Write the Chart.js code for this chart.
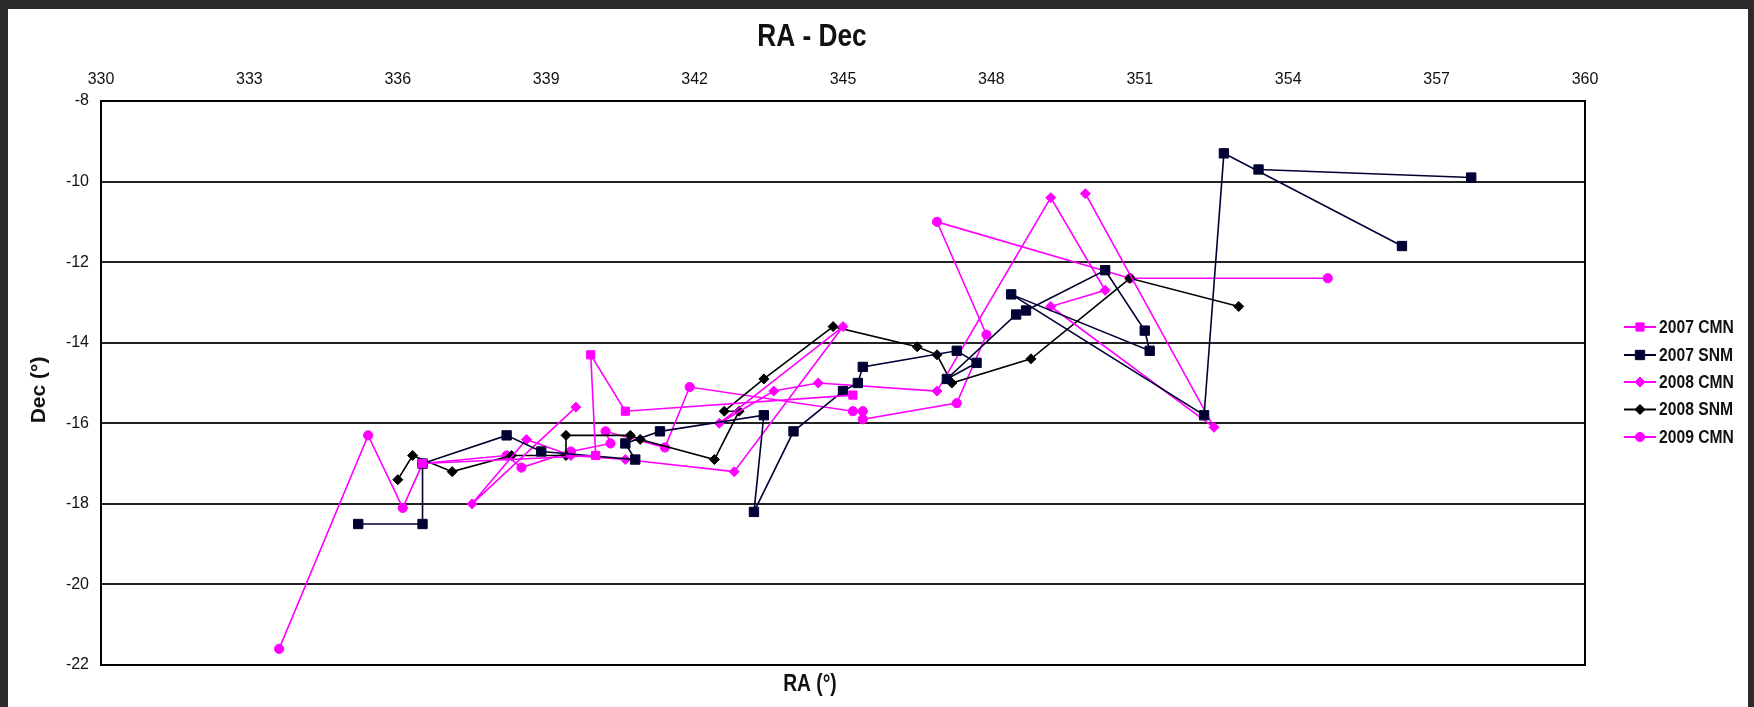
<!DOCTYPE html>
<html>
<head>
<meta charset="utf-8">
<script src="https://cdn.jsdelivr.net/npm/chart.js@4/dist/chart.umd.min.js"></script>
<style>
  html, body { margin: 0; padding: 0; background: #2b2b2b; width: 1754px; height: 707px; overflow: hidden; }
  #frame { position: absolute; left: 8px; top: 9px; width: 1740px; height: 698px; background: #ffffff; }
  canvas { display: block; }
</style>
</head>
<body>
<div id="frame"><canvas id="c" width="1740" height="698"></canvas></div>
<script>
// Axis ticks
const raTicks  = [330, 333, 336, 339, 342, 345, 348, 351, 354, 357, 360];
const decTicks = [-22, -20, -18, -16, -14, -12, -10, -8];

// 2007 CMN
const ra2007CMN  = [336.5, 340.0, 339.9, 340.6, 345.2];
const dec2007CMN = [-17.0, -16.8, -14.3, -15.7, -15.3];

// 2007 SNM (null marks a break in the track)
const ra2007SNM  = [335.2, 336.5, 336.5, 338.2, 338.9, 340.8, 340.6, 341.3, 343.4, 343.2, 344.0, 345.0, 345.3, 345.4,
                    347.3, 347.7, 347.1, 348.5, 348.7, 350.3, 351.1, 351.2, 348.4, 352.3, 352.7, 356.3, null, 353.4, 357.7];
const dec2007SNM = [-18.5, -18.5, -17.0, -16.3, -16.7, -16.9, -16.5, -16.2, -15.8, -18.2, -16.2, -15.2, -15.0, -14.6,
                    -14.2, -14.5, -14.9, -13.3, -13.2, -12.2, -13.7, -14.2, -12.8, -15.8, -9.3, -11.6, null, -9.7, -9.9];

// 2008 CMN
const ra2008CMN  = [339.6, 337.5, 338.6, 339.5, 340.6, 342.8, 345.0, 342.5, 343.6, 344.5, 346.9, 349.2, 350.3, 349.2, 352.5, 349.9];
const dec2008CMN = [-15.6, -18.0, -16.4, -16.8, -16.9, -17.2, -13.6, -16.0, -15.2, -15.0, -15.2, -10.4, -12.7, -13.1, -16.1, -10.3];

// 2008 SNM
const ra2008SNM  = [336.0, 336.3, 337.1, 338.3, 339.4, 339.4, 340.7, 340.9, 342.4, 342.9, 342.6, 343.4, 344.8, 346.5, 346.9, 347.2, 348.8, 350.8, 353.0];
const dec2008SNM = [-17.4, -16.8, -17.2, -16.8, -16.8, -16.3, -16.3, -16.4, -16.9, -15.7, -15.7, -14.9, -13.6, -14.1, -14.3, -15.0, -14.4, -12.4, -13.1];

// 2009 CMN
const ra2009CMN  = [333.6, 335.4, 336.1, 336.5, 338.2, 338.5, 339.5, 340.3, 340.2, 341.4, 341.9, 345.2, 345.4, 345.4, 347.3, 347.9, 346.9, 350.8, 354.8];
const dec2009CMN = [-21.6, -16.3, -18.1, -17.0, -16.8, -17.1, -16.7, -16.5, -16.2, -16.6, -15.1, -15.7, -15.7, -15.9, -15.5, -13.8, -11.0, -12.4, -12.4];

const SANS = "'Liberation Sans', Arial, sans-serif";
const MAGENTA = '#ff00ff';
const NAVY = '#000033';
const BLACK = '#000000';

function pts(xs, ys) {
  return xs.map((x, i) => ({ x: x, y: ys[i] }));
}

function series(label, xs, ys, color, style, radius) {
  return {
    label: label,
    data: pts(xs, ys),
    showLine: true,
    spanGaps: false,
    borderColor: color,
    borderWidth: 1.6,
    backgroundColor: color,
    pointBackgroundColor: color,
    pointBorderColor: color,
    pointBorderWidth: 1,
    pointStyle: style,
    pointRadius: radius,
    pointHoverRadius: radius,
    tension: 0
  };
}

const datasets = [
  series('2007 CMN', ra2007CMN, dec2007CMN, MAGENTA, 'rect', 5.8),
  series('2007 SNM', ra2007SNM, dec2007SNM, NAVY, 'rect', 6.6),
  series('2008 CMN', ra2008CMN, dec2008CMN, MAGENTA, 'rectRot', 5),
  series('2008 SNM', ra2008SNM, dec2008SNM, BLACK, 'rectRot', 5),
  series('2009 CMN', ra2009CMN, dec2009CMN, MAGENTA, 'circle', 4.6)
];

// Text drawn slightly condensed, centred or left-aligned at (x, y)
function condensedText(ctx, text, x, y, font, sx, align) {
  ctx.save();
  ctx.font = font;
  ctx.textAlign = align;
  ctx.textBaseline = 'middle';
  ctx.translate(x, y);
  ctx.scale(sx, 1);
  ctx.fillText(text, 0, 0);
  ctx.restore();
}

// Plot frame, titles and the line-and-marker legend
const decorations = {
  id: 'decorations',
  beforeDatasetsDraw(chart) {
    const { ctx, chartArea: a } = chart;
    ctx.save();
    ctx.strokeStyle = '#000';
    ctx.lineWidth = 2;
    ctx.strokeRect(a.left, a.top, a.right - a.left, a.bottom - a.top);
    ctx.restore();
  },
  afterDraw(chart) {
    const { ctx } = chart;
    ctx.save();
    ctx.fillStyle = '#111';
    condensedText(ctx, 'RA - Dec', 804, 28, "bold 32px " + SANS, 0.82, 'center');
    condensedText(ctx, 'RA (°)', 802, 675, "bold 24px " + SANS, 0.8, 'center');
    ctx.save();
    ctx.translate(31, 381);
    ctx.rotate(-Math.PI / 2);
    ctx.font = "bold 21px " + SANS;
    ctx.textAlign = 'center';
    ctx.textBaseline = 'middle';
    ctx.fillText('Dec (°)', 0, 0);
    ctx.restore();

    const rows = [318, 346, 373, 400.5, 428];
    chart.data.datasets.forEach((ds, i) => {
      const y = rows[i];
      ctx.strokeStyle = ds.borderColor;
      ctx.lineWidth = 2;
      ctx.beginPath();
      ctx.moveTo(1616, y);
      ctx.lineTo(1648, y);
      ctx.stroke();
      ctx.fillStyle = ds.pointBackgroundColor;
      ctx.strokeStyle = ds.pointBorderColor;
      ctx.lineWidth = 1;
      Chart.helpers.drawPoint(ctx, { pointStyle: ds.pointStyle, radius: ds.pointRadius, rotation: 0, borderWidth: 1 }, 1632, y);
      ctx.fillStyle = '#111';
      condensedText(ctx, ds.label, 1651, y + 1, "bold 18px " + SANS, 0.87, 'left');
    });
    ctx.restore();
  }
};

new Chart(document.getElementById('c'), {
  type: 'scatter',
  data: { datasets: datasets },
  options: {
    responsive: false,
    animation: false,
    devicePixelRatio: 1,
    layout: { padding: { left: 0, top: 0, right: 163, bottom: 42 } },
    plugins: {
      legend: { display: false },
      title: { display: false },
      tooltip: { enabled: false }
    },
    scales: {
      x: {
        type: 'linear',
        position: 'top',
        min: 330,
        max: 360,
        afterBuildTicks: s => { s.ticks = raTicks.map(v => ({ value: v })); },
        afterFit: s => { s.height = 92; },
        ticks: { color: '#111', font: { family: SANS, size: 16 }, padding: 12, maxRotation: 0, autoSkip: false },
        grid: { display: false, drawTicks: false },
        border: { display: false }
      },
      y: {
        type: 'linear',
        min: -22,
        max: -8,
        afterBuildTicks: s => { s.ticks = decTicks.map(v => ({ value: v })); },
        afterFit: s => { s.width = 93; },
        ticks: { color: '#111', font: { family: SANS, size: 16 }, padding: 12, autoSkip: false },
        grid: { color: '#222', lineWidth: 2, drawTicks: false },
        border: { display: false }
      }
    }
  },
  plugins: [decorations]
});
</script>
</body>
</html>
